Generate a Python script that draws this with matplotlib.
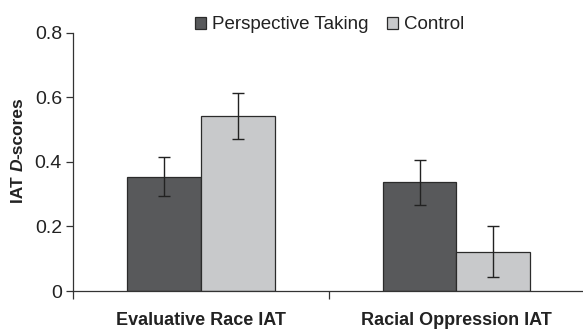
import matplotlib
matplotlib.use("Agg")
import matplotlib.pyplot as plt
import numpy as np
from matplotlib.patches import Patch

plt.rcParams['font.family'] = ['Liberation Sans', 'DejaVu Sans']

categories = ["Evaluative Race IAT", "Racial Oppression IAT"]
series_names = ["Perspective Taking", "Control"]
perspective = [0.354, 0.336]
control = [0.542, 0.122]
perspective_err = [0.060, 0.069]
control_err = [0.070, 0.079]
yticks = [0, 0.2, 0.4, 0.6, 0.8]
ytick_labels = ["0", "0.2", "0.4", "0.6", "0.8"]

colors = ["#58595b", "#c8c9cb"]
edge = "#2b2b2b"

fig = plt.figure(figsize=(5.83, 3.29), dpi=100)
ax = fig.add_axes([0.1252, 0.1155, 0.877, 0.7855])

x = np.arange(len(categories))
w = 0.289
ax.bar(x - w/2, perspective, w, color=colors[0], edgecolor=edge, linewidth=0.9,
       yerr=perspective_err, error_kw=dict(ecolor="#222222", elinewidth=1.0, capsize=4.2, capthick=1.0))
ax.bar(x + w/2, control, w, color=colors[1], edgecolor=edge, linewidth=0.9,
       yerr=control_err, error_kw=dict(ecolor="#222222", elinewidth=1.0, capsize=4.2, capthick=1.0))

ax.set_xlim(-0.5, 1.5)
ax.set_ylim(0, 0.8)
ax.set_yticks(yticks)
ax.set_yticklabels(ytick_labels, fontsize=14, color="#222222")
ax.set_xticks(x)
ax.set_xticklabels(categories, fontsize=13, fontweight="bold", color="#222222")
ax.tick_params(axis="x", which="major", length=0, pad=15)
ax.set_xticks([-0.5, 0.5], minor=True)
ax.tick_params(axis="x", which="minor", length=6, width=0.9, color="#333333", direction="out")
ax.tick_params(axis="y", length=5, width=0.9, color="#333333", pad=3)

for s in ["top", "right"]:
    ax.spines[s].set_visible(False)
for s in ["left", "bottom"]:
    ax.spines[s].set_color("#333333")
    ax.spines[s].set_linewidth(0.9)

# y label composed of pieces (italic D)
fig.canvas.draw()
renderer = fig.canvas.get_renderer()
pieces = [("IAT ", "normal"), ("D", "italic"), ("-scores", "normal")]
ypos = 0.383
H = fig.get_figheight() * fig.dpi
for txt, st in pieces:
    t = fig.text(0.031, ypos, txt, rotation=90, fontsize=12.5, fontweight="bold", style=st,
                 color="#222222", ha="center", va="bottom", rotation_mode="default")
    bb = t.get_window_extent(renderer)
    ypos += bb.height / H

handles = [Patch(facecolor=colors[i], edgecolor=edge, linewidth=0.9) for i in range(2)]
fig.legend(handles, series_names, loc="center", bbox_to_anchor=(0.565, 0.925), ncol=2,
           frameon=False, fontsize=13.5, handlelength=0.6, handleheight=0.6,
           handletextpad=0.3, columnspacing=1.0, labelcolor="#222222")

fig.savefig("out.png", dpi=100)
